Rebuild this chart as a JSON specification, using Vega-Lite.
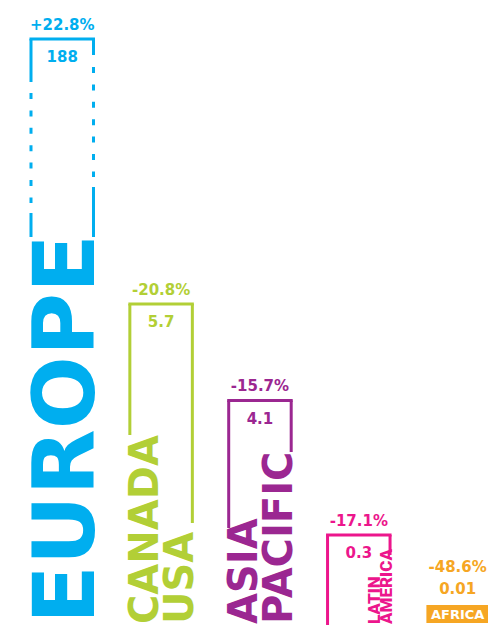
{
  "$schema": "https://vega.github.io/schema/vega-lite/v6.json",
  "width": 490,
  "height": 625,
  "padding": 0,
  "autosize": {"type": "none"},
  "background": "white",
  "config": {
    "view": {"stroke": null},
    "axis": {"disable": true},
    "text": {"font": "DejaVu Sans", "fontWeight": "bold"}
  },
  "datasets": {
    "bars": [
      {"region": "Europe", "top": 586, "pct": "+22.8%", "value": "188"},
      {"region": "Canada USA", "top": 321, "pct": "-20.8%", "value": "5.7"},
      {"region": "Asia Pacific", "top": 224.5, "pct": "-15.7%", "value": "4.1"},
      {"region": "Latin America", "top": 90, "pct": "-17.1%", "value": "0.3"},
      {"region": "Africa", "top": 20, "pct": "-48.6%", "value": "0.01"}
    ],
    "sides": [
      {"region": "Europe", "side": "left", "from": 586, "to": 543, "style": "solid"},
      {"region": "Europe", "side": "left", "from": 532, "to": 422, "style": "dashed"},
      {"region": "Europe", "side": "left", "from": 412, "to": 388, "style": "solid"},
      {"region": "Europe", "side": "right", "from": 586, "to": 570, "style": "solid"},
      {"region": "Europe", "side": "right", "from": 558, "to": 448, "style": "dashed"},
      {"region": "Europe", "side": "right", "from": 438, "to": 388, "style": "solid"},
      {"region": "Canada USA", "side": "left", "from": 321, "to": 190, "style": "solid"},
      {"region": "Canada USA", "side": "right", "from": 321, "to": 102, "style": "solid"},
      {"region": "Asia Pacific", "side": "left", "from": 224.5, "to": 97, "style": "solid"},
      {"region": "Asia Pacific", "side": "right", "from": 224.5, "to": 173, "style": "solid"},
      {"region": "Latin America", "side": "left", "from": 90, "to": 0, "style": "solid"},
      {"region": "Latin America", "side": "right", "from": 90, "to": 70, "style": "solid"}
    ],
    "regionLabels": [
      {"region": "Europe", "label": "EUROPE", "line": "single", "base": 1},
      {"region": "Canada USA", "label": "CANADA", "line": "inner", "base": 1},
      {"region": "Canada USA", "label": "USA", "line": "outer", "base": 1},
      {"region": "Asia Pacific", "label": "ASIA", "line": "inner", "base": 1},
      {"region": "Asia Pacific", "label": "PACIFIC", "line": "outer", "base": 1},
      {"region": "Latin America", "label": "LATIN", "line": "inner", "base": 1},
      {"region": "Latin America", "label": "AMERICA", "line": "outer", "base": 1},
      {"region": "Africa", "label": "AFRICA", "line": "single", "base": 6}
    ]
  },
  "encoding": {
    "x": {
      "field": "region",
      "type": "nominal",
      "axis": null,
      "scale": {
        "domain": ["Europe", "Canada USA", "Asia Pacific", "Latin America", "Africa"],
        "paddingInner": 0.36773,
        "paddingOuter": 0.16237,
        "align": 0.9657,
        "round": false
      }
    },
    "y": {
      "field": "top",
      "type": "quantitative",
      "axis": null,
      "scale": {"domain": [0, 625], "nice": false, "zero": false}
    },
    "color": {
      "field": "region",
      "type": "nominal",
      "legend": null,
      "scale": {
        "domain": ["Europe", "Canada USA", "Asia Pacific", "Latin America", "Africa"],
        "range": ["#00AEEF", "#B2CF36", "#9B2791", "#EC168C", "#F6A623"]
      }
    }
  },
  "layer": [
    {
      "data": {"name": "bars"},
      "transform": [{"filter": "datum.region !== 'Africa'"}],
      "mark": {"type": "rule", "strokeWidth": 3, "strokeCap": "square"},
      "encoding": {
        "x": {"field": "region", "type": "nominal", "bandPosition": 0, "axis": null},
        "x2": {"field": "region", "bandPosition": 1},
        "y": {"field": "top", "type": "quantitative", "axis": null}
      }
    },
    {
      "data": {"name": "sides"},
      "transform": [{"filter": "datum.side === 'left'"}],
      "mark": {"type": "rule", "strokeWidth": 3},
      "encoding": {
        "x": {"field": "region", "type": "nominal", "bandPosition": 0, "axis": null},
        "y": {"field": "from", "type": "quantitative", "axis": null},
        "y2": {"field": "to"},
        "strokeDash": {"field": "style", "type": "nominal", "legend": null, "scale": {"domain": ["solid", "dashed"], "range": [[1, 0], [6, 11.4]]}}
      }
    },
    {
      "data": {"name": "sides"},
      "transform": [{"filter": "datum.side === 'right'"}],
      "mark": {"type": "rule", "strokeWidth": 3},
      "encoding": {
        "x": {"field": "region", "type": "nominal", "bandPosition": 1, "axis": null},
        "y": {"field": "from", "type": "quantitative", "axis": null},
        "y2": {"field": "to"},
        "strokeDash": {"field": "style", "type": "nominal", "legend": null}
      }
    },
    {
      "data": {"name": "bars"},
      "transform": [{"filter": "datum.region === 'Africa'"}],
      "mark": {"type": "bar"},
      "encoding": {
        "y": {"field": "top", "type": "quantitative", "axis": null},
        "y2": {"datum": 2}
      }
    },
    {
      "data": {"name": "bars"},
      "transform": [{"filter": "datum.region !== 'Africa'"}],
      "mark": {"type": "text", "fontSize": 15, "align": "center", "baseline": "alphabetic", "dy": -9.5},
      "encoding": {"text": {"field": "pct"}}
    },
    {
      "data": {"name": "bars"},
      "transform": [{"filter": "datum.region !== 'Africa'"}],
      "mark": {"type": "text", "fontSize": 15, "align": "center", "baseline": "alphabetic", "dy": 23},
      "encoding": {"text": {"field": "value"}}
    },
    {
      "data": {"name": "bars"},
      "transform": [{"filter": "datum.region === 'Africa'"}],
      "mark": {"type": "text", "fontSize": 15, "align": "center", "baseline": "alphabetic", "dy": -33},
      "encoding": {"text": {"field": "pct"}}
    },
    {
      "data": {"name": "bars"},
      "transform": [{"filter": "datum.region === 'Africa'"}],
      "mark": {"type": "text", "fontSize": 15, "align": "center", "baseline": "alphabetic", "dy": -11},
      "encoding": {"text": {"field": "value"}}
    },
    {
      "data": {"name": "regionLabels"},
      "transform": [{"filter": "datum.region === 'Europe'"}],
      "mark": {"type": "text", "fontSize": 86, "angle": 270, "align": "left", "baseline": "alphabetic", "dy": 0.5},
      "encoding": {
        "x": {"field": "region", "type": "nominal", "bandPosition": 1, "axis": null},
        "y": {"field": "base", "type": "quantitative", "axis": null},
        "text": {"field": "label"}
      }
    },
    {
      "data": {"name": "regionLabels"},
      "transform": [{"filter": "(datum.region === 'Canada USA' || datum.region === 'Asia Pacific') && datum.line === 'inner'"}],
      "mark": {"type": "text", "fontSize": 40, "angle": 270, "align": "left", "baseline": "alphabetic", "dy": -34.5},
      "encoding": {
        "x": {"field": "region", "type": "nominal", "bandPosition": 1, "axis": null},
        "y": {"field": "base", "type": "quantitative", "axis": null},
        "text": {"field": "label"}
      }
    },
    {
      "data": {"name": "regionLabels"},
      "transform": [{"filter": "(datum.region === 'Canada USA' || datum.region === 'Asia Pacific') && datum.line === 'outer'"}],
      "mark": {"type": "text", "fontSize": 40, "angle": 270, "align": "left", "baseline": "alphabetic", "dy": 1},
      "encoding": {
        "x": {"field": "region", "type": "nominal", "bandPosition": 1, "axis": null},
        "y": {"field": "base", "type": "quantitative", "axis": null},
        "text": {"field": "label"}
      }
    },
    {
      "data": {"name": "regionLabels"},
      "transform": [{"filter": "datum.region === 'Latin America' && datum.line === 'inner'"}],
      "mark": {"type": "text", "font": "Roboto", "fontWeight": 900, "fontSize": 17, "angle": 270, "align": "left", "baseline": "alphabetic", "dy": -10.5},
      "encoding": {
        "x": {"field": "region", "type": "nominal", "bandPosition": 1, "axis": null},
        "y": {"field": "base", "type": "quantitative", "axis": null},
        "text": {"field": "label"}
      }
    },
    {
      "data": {"name": "regionLabels"},
      "transform": [{"filter": "datum.region === 'Latin America' && datum.line === 'outer'"}],
      "mark": {"type": "text", "font": "Roboto", "fontWeight": 900, "fontSize": 17, "angle": 270, "align": "left", "baseline": "alphabetic", "dy": 1.5},
      "encoding": {
        "x": {"field": "region", "type": "nominal", "bandPosition": 1, "axis": null},
        "y": {"field": "base", "type": "quantitative", "axis": null},
        "text": {"field": "label"}
      }
    },
    {
      "data": {"name": "regionLabels"},
      "transform": [{"filter": "datum.region === 'Africa'"}],
      "mark": {"type": "text", "fontSize": 13, "align": "center", "baseline": "alphabetic"},
      "encoding": {
        "y": {"field": "base", "type": "quantitative", "axis": null},
        "text": {"field": "label"},
        "color": {"value": "white"}
      }
    }
  ]
}
